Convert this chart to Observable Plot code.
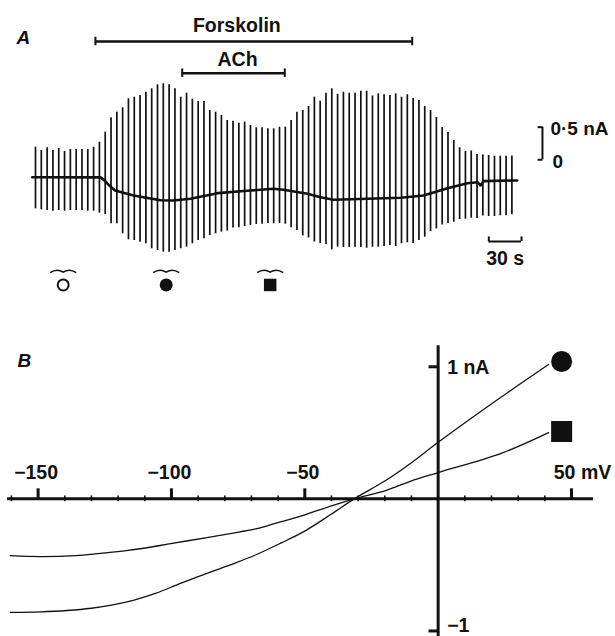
<!DOCTYPE html>
<html><head><meta charset="utf-8">
<script src="https://cdn.jsdelivr.net/npm/d3@7"></script>
<script src="https://cdn.jsdelivr.net/npm/@observablehq/plot@0.6"></script>
<style>
body{margin:0;background:#fff;}
#chart svg{display:block;}
</style></head><body><div id="chart"></div>
<script>
// ---------- DATA ----------
// Panel A: ramp sweeps (current extremes, nA) recorded every ~5.33 s
const sweepInterval = 5.33;
const sweepTop = [0.193,0.143,0.184,0.143,0.173,0.127,0.158,0.158,0.158,0.158,
 0.193,0.270,0.423,0.644,0.730,0.798,0.936,0.960,0.986,1.037,
 1.089,1.150,1.166,1.150,1.089,0.960,1.021,0.929,0.894,0.894,
 0.756,0.730,0.679,0.603,0.592,0.561,0.577,0.526,0.491,0.491,
 0.475,0.475,0.500,0.500,0.603,0.730,0.756,0.817,0.960,0.899,
 1.021,1.089,1.002,1.037,1.021,1.021,1.052,1.052,0.979,1.012,
 0.997,0.986,1.012,0.960,0.997,0.940,0.909,0.817,0.756,0.649,
 0.495,0.419,0.296,0.184,0.127,0.135,0.081,0.074,0.066,0.055,
 0.055,0.055,0.058];
const sweepBottom = [-0.752,-0.767,-0.778,-0.788,-0.778,-0.788,-0.778,-0.778,-0.778,-0.788,
 -0.788,-0.819,-0.839,-0.982,-0.982,-1.135,-1.227,-1.238,-1.264,-1.288,
 -1.365,-1.391,-1.417,-1.417,-1.391,-1.365,-1.340,-1.288,-1.238,-1.212,
 -1.161,-1.135,-1.110,-1.092,-1.046,-1.043,-1.023,-1.008,-0.992,-0.988,
 -0.977,-0.982,-0.977,-0.988,-1.043,-1.084,-1.169,-1.199,-1.261,-1.284,
 -1.299,-1.380,-1.340,-1.345,-1.345,-1.340,-1.345,-1.356,-1.340,-1.340,
 -1.330,-1.314,-1.330,-1.288,-1.273,-1.284,-1.238,-1.187,-1.100,-1.061,
 -1.000,-0.977,-0.957,-0.916,-0.911,-0.896,-0.900,-0.862,-0.870,-0.870,
 -0.859,-0.859,-0.842];
// holding current trace
const holdTime = [-3.0,59.6,63.5,68.0,73.0,89.9,114.7,126.6,142.2,167.0,197.2,218.3,227.5,249.5,261.5,273.4,304.6,334.9,356.0,378.0,396.3,405.5,408.3,411.0,438.5,441.9];
const holdCurrent = [-0.267,-0.270,-0.320,-0.400,-0.470,-0.548,-0.620,-0.624,-0.598,-0.512,-0.471,-0.445,-0.460,-0.521,-0.574,-0.613,-0.598,-0.583,-0.548,-0.436,-0.359,-0.344,-0.394,-0.328,-0.317,-0.317];
// drug applications (s)
const drugNames = ["Forskolin", "ACh"];
const drugStart = [55.0, 134.6];
const drugEnd = [345.6, 228.7];
// sweeps shown in B
const markerTimes = [25.4, 119.9, 215.3];
const markerKinds = ["control", "forskolin", "ach"];
// scale bars
const scaleCurrent = 0.5;   // nA
const scaleTime = 30;       // s

// Panel B: I-V relations
const ivForskolinV = [-160.4,-149.1,-139.1,-130,-122,-114,-106,-96.6,-87.2,-78,-68.5,-59,-49.7,-40,-31.5,-19.7,-10.4,0,23.4,41.4];
const ivForskolinI = [-0.859,-0.855,-0.845,-0.828,-0.803,-0.766,-0.716,-0.640,-0.568,-0.500,-0.425,-0.335,-0.240,-0.115,0,0.139,0.268,0.428,0.767,1.017];
const ivAChV = [-160.4,-149.1,-136,-126.6,-117,-109.7,-100.3,-87.2,-78,-68.5,-61.0,-49.7,-41,-31.5,-19.7,-10.4,0,23.4,41.4];
const ivAChI = [-0.430,-0.437,-0.430,-0.412,-0.392,-0.372,-0.339,-0.295,-0.263,-0.228,-0.185,-0.119,-0.060,0,0.063,0.133,0.199,0.343,0.502];
const majorTicks = [-150, -100, -50, 50];
const majorTickLabels = ["\u2212150", "\u2212100", "\u221250", "50 mV"];
const minorTicks = [-160,-140,-130,-120,-110,-90,-80,-70,-60,-40,-30,-20,-10,10,20,30,40];
const currentTicks = [1, -1];
const currentTickLabels = ["1 nA", "\u22121"];
const ivEnd = {forskolin: [46.3, 1.040], ach: [46.3, 0.510]};

// ---------- CHART ----------
const FONT = "'Liberation Sans', Arial, Helvetica, sans-serif";
const INK = "#111";
const sweeps = sweepTop.map((top, i) => ({t: i * sweepInterval, top, bottom: sweepBottom[i]}));
const hold = holdTime.map((t, i) => ({t, i: holdCurrent[i]}));
const drugs = drugNames.map((name, i) => ({name, start: drugStart[i], end: drugEnd[i]}));
const drugRow = {Forskolin: 1.814, ACh: 1.328};
const labelOffset = {Forskolin: [-17, -16], ACh: [4, -13]};
const markers = markerTimes.map((t, i) => ({t, kind: markerKinds[i]}));
const markerRow = -1.92, tildeRow = -1.713;
const barT = 465.1, barTimeRow = -1.253, barTimeStart = 415.9;
// small wavy line drawn above each marker
const tilde = {draw(ctx) {
  ctx.moveTo(-13, 1.2);
  ctx.quadraticCurveTo(-6.5, -3.2, 0, 0.6);
  ctx.quadraticCurveTo(6.5, -3.2, 13, 1.2);
}};

const plotA = Plot.plot({
  width: 615, height: 305, margin: 0,
  x: {domain: [-32.11, 532.11], range: [0, 615], axis: null},
  y: {domain: [-2.235, 2.443], range: [305, 0], axis: null},
  style: {fontFamily: FONT, background: "white", color: INK},
  marks: [
    Plot.ruleX(sweeps, {x: "t", y1: "bottom", y2: "top", stroke: INK, strokeWidth: 1.7}),
    Plot.line(hold, {x: "t", y: "i", stroke: INK, strokeWidth: 2.6}),
    Plot.ruleY(drugs, {y: d => drugRow[d.name], x1: "start", x2: "end", stroke: INK, strokeWidth: 2.4}),
    Plot.ruleX(drugs.flatMap(d => [{t: d.start, n: d.name}, {t: d.end, n: d.name}]),
      {x: "t", y1: d => drugRow[d.n] - 0.065, y2: d => drugRow[d.n] + 0.065, stroke: INK, strokeWidth: 2}),
    ...drugs.map(d => Plot.text([d], {x: d => (d.start + d.end) / 2, y: d => drugRow[d.name], text: "name",
      dx: labelOffset[d.name][0], dy: labelOffset[d.name][1], fontSize: 19.5, fontWeight: "bold", fill: INK})),
    // current scale bar
    Plot.ruleX([barT], {y1: 0, y2: scaleCurrent, stroke: INK, strokeWidth: 2}),
    Plot.ruleY([0, scaleCurrent], {x1: barT - 4, x2: barT + 0.5, stroke: INK, strokeWidth: 2}),
    Plot.text([scaleCurrent], {x: barT, y: d => d, text: d => "0\u00b75 nA", dx: 8, dy: 2, textAnchor: "start", fontSize: 19, fontWeight: "bold", fill: INK}),
    Plot.text([0], {x: barT, y: d => d, text: d => "0", dx: 10, dy: 2.5, textAnchor: "start", fontSize: 19, fontWeight: "bold", fill: INK}),
    // time scale bar
    Plot.ruleY([barTimeRow], {x1: barTimeStart, x2: barTimeStart + scaleTime, stroke: INK, strokeWidth: 2}),
    Plot.ruleX([barTimeStart, barTimeStart + scaleTime], {y1: barTimeRow, y2: barTimeRow + 0.07, stroke: INK, strokeWidth: 2}),
    Plot.text([scaleTime], {x: barTimeStart + scaleTime / 2, y: barTimeRow, text: d => d + " s", dy: 17, fontSize: 19.5, fontWeight: "bold", fill: INK}),
    // markers
    Plot.dot(markers, {x: "t", y: tildeRow, symbol: tilde, r: 5, fill: "none", stroke: INK, strokeWidth: 1.6}),
    Plot.dot(markers.filter(d => d.kind === "control"), {x: "t", y: markerRow, r: 5.5, fill: "white", stroke: INK, strokeWidth: 2}),
    Plot.dot(markers.filter(d => d.kind === "forskolin"), {x: "t", y: markerRow, r: 6.5, fill: INK, stroke: "none"}),
    Plot.dot(markers.filter(d => d.kind === "ach"), {x: "t", y: markerRow, r: 7.05, symbol: "square", fill: INK, stroke: "none"}),
    Plot.text(["A"], {frameAnchor: "top-left", dx: 16, dy: 30, text: d => d, textAnchor: "start", fontSize: 19, fontStyle: "italic", fontWeight: "bold", fill: INK})
  ]
});

const curveF = ivForskolinV.map((v, i) => ({v, i: ivForskolinI[i]}));
const curveA = ivAChV.map((v, i) => ({v, i: ivAChI[i]}));
const ticksMajor = majorTicks.map((v, k) => ({v, label: majorTickLabels[k]}));
const ticksY = currentTicks.map((c, k) => ({c, label: currentTickLabels[k]}));

const plotB = Plot.plot({
  width: 615, height: 331, margin: 0,
  x: {domain: [-164.1, 66.5], range: [0, 615], axis: null},
  y: {domain: [-1.042, 1.464], range: [331, 0], axis: null},
  style: {fontFamily: FONT, background: "white", color: INK},
  marks: [
    Plot.ruleY([0], {x1: -161.5, x2: 58.3, stroke: INK, strokeWidth: 3}),
    Plot.ruleX([0], {y1: -1.05, y2: 1.16, stroke: INK, strokeWidth: 3}),
    Plot.ruleX(minorTicks, {y1: -0.022, y2: 0.022, stroke: INK, strokeWidth: 1.6}),
    Plot.ruleX(majorTicks, {y1: 0, y2: 0.076, stroke: INK, strokeWidth: 3}),
    Plot.ruleY(currentTicks, {x1: -3.4, x2: 0, stroke: INK, strokeWidth: 3}),
    Plot.text(ticksMajor.filter(d => d.v < 0), {x: "v", y: 0, text: "label", dy: -26, dx: -2, fontSize: 19.5, fontWeight: "bold", fill: INK}),
    Plot.text(ticksMajor.filter(d => d.v > 0), {x: "v", y: 0, text: "label", dy: -26, dx: 11, fontSize: 19.5, fontWeight: "bold", fill: INK}),
    Plot.text(ticksY.filter(d => d.c > 0), {x: 0, y: "c", text: "label", dx: 9, dy: 1, textAnchor: "start", fontSize: 19.5, fontWeight: "bold", fill: INK}),
    Plot.text(ticksY.filter(d => d.c < 0), {x: 0, y: "c", text: "label", dx: 9, dy: -5, textAnchor: "start", fontSize: 19.5, fontWeight: "bold", fill: INK}),
    Plot.line(curveF, {x: "v", y: "i", curve: "catmull-rom", stroke: INK, strokeWidth: 1.3}),
    Plot.line(curveA, {x: "v", y: "i", curve: "catmull-rom", stroke: INK, strokeWidth: 1.3}),
    Plot.dot([ivEnd.forskolin], {x: d => d[0], y: d => d[1], r: 10.5, fill: INK, stroke: "none"}),
    Plot.dot([ivEnd.ach], {x: d => d[0], y: d => d[1], r: 11.85, symbol: "square", fill: INK, stroke: "none"}),
    Plot.text(["B"], {frameAnchor: "top-left", dx: 17, dy: 48, text: d => d, textAnchor: "start", fontSize: 19, fontStyle: "italic", fontWeight: "bold", fill: INK})
  ]
});

document.getElementById("chart").append(plotA, plotB);
</script></body></html>
